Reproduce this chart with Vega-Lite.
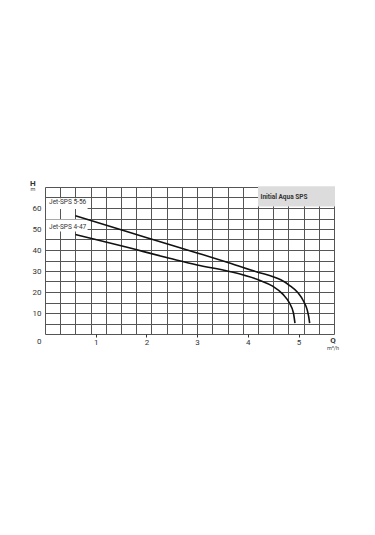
{
  "$schema": "https://vega.github.io/schema/vega-lite/v6.json",
  "autosize": {"type": "none"},
  "width": 289,
  "height": 147,
  "padding": {"left": 45, "top": 187, "right": 41, "bottom": 201},
  "background": "white",
  "config": {"view": {"stroke": null}, "font": "Roboto"},
  "datasets": {
    "curves": [
      {"pump": "Jet-SPS 5-56", "q": 0.6, "h": 56.3},
      {"pump": "Jet-SPS 5-56", "q": 1.5, "h": 49.6},
      {"pump": "Jet-SPS 5-56", "q": 2.5, "h": 42.3},
      {"pump": "Jet-SPS 5-56", "q": 3.0, "h": 38.6},
      {"pump": "Jet-SPS 5-56", "q": 3.64, "h": 33.8},
      {"pump": "Jet-SPS 5-56", "q": 4.23, "h": 29.2},
      {"pump": "Jet-SPS 5-56", "q": 4.5, "h": 27.3},
      {"pump": "Jet-SPS 5-56", "q": 4.65, "h": 25.8},
      {"pump": "Jet-SPS 5-56", "q": 4.82, "h": 23.2},
      {"pump": "Jet-SPS 5-56", "q": 4.99, "h": 19.6},
      {"pump": "Jet-SPS 5-56", "q": 5.1, "h": 15.6},
      {"pump": "Jet-SPS 5-56", "q": 5.17, "h": 11.6},
      {"pump": "Jet-SPS 5-56", "q": 5.2, "h": 8.4},
      {"pump": "Jet-SPS 5-56", "q": 5.22, "h": 5.2},
      {"pump": "Jet-SPS 4-47", "q": 0.6, "h": 47.4},
      {"pump": "Jet-SPS 4-47", "q": 1.5, "h": 42.0},
      {"pump": "Jet-SPS 4-47", "q": 2.5, "h": 35.8},
      {"pump": "Jet-SPS 4-47", "q": 3.0, "h": 32.9},
      {"pump": "Jet-SPS 4-47", "q": 3.64, "h": 29.8},
      {"pump": "Jet-SPS 4-47", "q": 4.23, "h": 25.6},
      {"pump": "Jet-SPS 4-47", "q": 4.49, "h": 22.8},
      {"pump": "Jet-SPS 4-47", "q": 4.69, "h": 19.0},
      {"pump": "Jet-SPS 4-47", "q": 4.82, "h": 14.8},
      {"pump": "Jet-SPS 4-47", "q": 4.9, "h": 10.0},
      {"pump": "Jet-SPS 4-47", "q": 4.93, "h": 5.2}
    ],
    "labels": [
      {"text": "Jet-SPS 5-56", "q": 0.08, "h": 62.8, "q0": 0.02, "q1": 0.84, "h0": 59.5, "h1": 64.6},
      {"text": "Jet-SPS 4-47", "q": 0.08, "h": 50.9, "q0": 0.02, "q1": 0.84, "h0": 48.8, "h1": 54.5}
    ],
    "box": [
      {"text": "Initial Aqua SPS", "q": 4.25, "h": 65.2, "q0": 4.2, "q1": 5.72, "h0": 60.7, "h1": 70.3}
    ]
  },
  "resolve": {"axis": {"x": "independent", "y": "independent"}},
  "layer": [
    {
      "data": {"name": "labels"},
      "mark": {"type": "rect", "fill": "white", "stroke": null},
      "encoding": {
        "x": {"field": "q0", "type": "quantitative", "scale": {"domain": [0, 5.7], "nice": false, "zero": false},
          "axis": {"orient": "bottom", "values": [0, 0.3, 0.6, 0.9, 1.2, 1.5, 1.8, 2.1, 2.4, 2.7, 3.0, 3.3, 3.6, 3.9, 4.2, 4.5, 4.8, 5.1, 5.4, 5.7],
            "grid": true, "gridColor": "#555", "gridWidth": 1, "gridOpacity": 1, "labels": false, "ticks": false, "domain": false, "title": null}},
        "x2": {"field": "q1"},
        "y": {"field": "h0", "type": "quantitative", "scale": {"domain": [0, 70], "nice": false, "zero": false},
          "axis": {"orient": "left", "values": [0, 5, 10, 15, 20, 25, 30, 35, 40, 45, 50, 55, 60, 65, 70],
            "grid": true, "gridColor": "#555", "gridWidth": 1, "gridOpacity": 1, "labels": false, "ticks": false, "domain": false, "title": null}},
        "y2": {"field": "h1"}
      }
    },
    {
      "data": {"name": "box"},
      "mark": {"type": "rect", "fill": "#dcdcdc", "stroke": null},
      "encoding": {
        "x": {"field": "q0", "type": "quantitative",
          "axis": {"orient": "bottom", "values": [1, 2, 3, 4, 5], "grid": false, "domain": false, "ticks": true, "tickSize": 3, "tickColor": "#333", "tickWidth": 1,
            "labelPadding": 1, "labelFontSize": 8, "labelColor": "#333", "title": null}},
        "x2": {"field": "q1"},
        "y": {"field": "h0", "type": "quantitative",
          "axis": {"orient": "left", "values": [0, 10, 20, 30, 40, 50, 60], "grid": false, "domain": false, "ticks": false,
            "labelPadding": 4, "labelFontSize": 8, "labelColor": "#333",
            "labelOffset": {"condition": {"test": "datum.value === 0", "value": 7}, "value": 0}, "title": null}},
        "y2": {"field": "h1"}
      }
    },
    {
      "data": {"name": "curves"},
      "mark": {"type": "line", "interpolate": "monotone", "color": "#111", "strokeWidth": 1.6},
      "encoding": {
        "x": {"field": "q", "type": "quantitative", "axis": null},
        "y": {"field": "h", "type": "quantitative", "axis": null},
        "detail": {"field": "pump"}
      }
    },
    {
      "data": {"name": "labels"},
      "mark": {"type": "text", "align": "left", "baseline": "middle", "fontSize": 6.5, "color": "#333"},
      "encoding": {
        "x": {"field": "q", "type": "quantitative", "axis": null},
        "y": {"field": "h", "type": "quantitative", "axis": null},
        "text": {"field": "text"}
      }
    },
    {
      "data": {"name": "box"},
      "mark": {"type": "text", "align": "left", "baseline": "middle", "fontSize": 6.5, "fontWeight": "bold", "color": "#333"},
      "encoding": {
        "x": {"field": "q", "type": "quantitative", "axis": null},
        "y": {"field": "h", "type": "quantitative", "axis": null},
        "text": {"field": "text"}
      }
    },
    {
      "data": {"values": [{"t": "H", "q": -0.24, "h": 71.6}, {"t": "Q", "q": 5.68, "h": -3.3}]},
      "mark": {"type": "text", "align": "center", "baseline": "middle", "fontSize": 8, "fontWeight": "bold", "color": "#333"},
      "encoding": {
        "x": {"field": "q", "type": "quantitative", "axis": null},
        "y": {"field": "h", "type": "quantitative", "axis": null},
        "text": {"field": "t"}
      }
    },
    {
      "data": {"values": [{"t": "m", "q": -0.24, "h": 68.9}, {"t": "m³/h", "q": 5.68, "h": -6.6}]},
      "mark": {"type": "text", "align": "center", "baseline": "middle", "fontSize": 5.5, "color": "#444"},
      "encoding": {
        "x": {"field": "q", "type": "quantitative", "axis": null},
        "y": {"field": "h", "type": "quantitative", "axis": null},
        "text": {"field": "t"}
      }
    }
  ]
}
